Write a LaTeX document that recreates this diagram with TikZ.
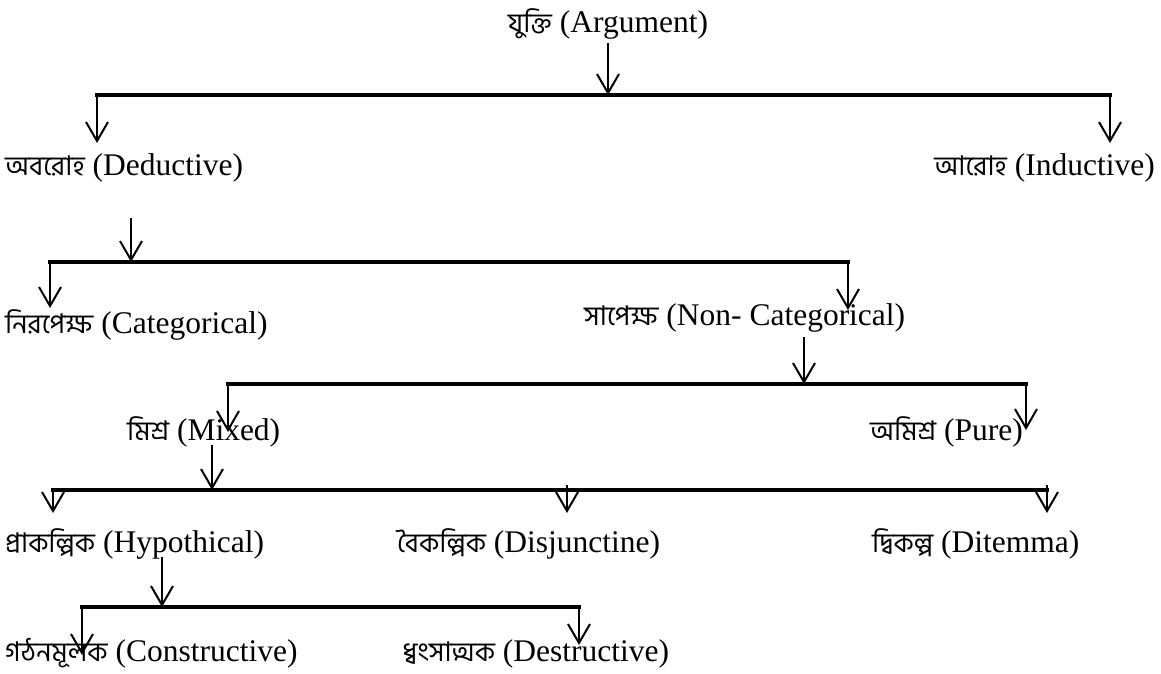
\documentclass[tikz,border=0pt]{standalone}
\usepackage{fontspec}
\setmainfont{Liberation Serif}
\newfontfamily\bn[Script=Bengali,Scale=0.86]{Hind Siliguri}
\usetikzlibrary{arrows.meta}
\tikzset{
  lbl/.style={inner sep=0pt, font=\fontsize{31.5}{38}\selectfont},
  barline/.style={line width=3.5pt, line cap=rect},
  drop/.style={line width=2pt, -{Straight Barb[length=19pt,width=22pt,line width=2pt]}},
}
\begin{document}
\begin{tikzpicture}[x=1pt,y=-1pt]
\useasboundingbox (0,0) rectangle (1161,674);
% labels
\node[lbl,anchor=base] (arg) at (608,33) {{\bn যুক্তি} (Argument)};
\node[lbl,anchor=base west] (ded) at (5,175) {{\bn অবরোহ} (Deductive)};
\node[lbl,anchor=base east] (ind) at (1155,175) {{\bn আরোহ} (Inductive)};
\node[lbl,anchor=base west] (cat) at (5,333) {{\bn নিরপেক্ষ} (Categorical)};
\node[lbl,anchor=base west] (ncat) at (584,325) {{\bn সাপেক্ষ} (Non- Categorical)};
\node[lbl,anchor=base west] (mix) at (127,440) {{\bn মিশ্র} (Mixed)};
\node[lbl,anchor=base west] (pure) at (870,440) {{\bn অমিশ্র} (Pure)};
\node[lbl,anchor=base west] (hyp) at (5,552) {{\bn প্রাকল্পিক} (Hypothical)};
\node[lbl,anchor=base west] (dis) at (397,552) {{\bn বৈকল্পিক} (Disjunctine)};
\node[lbl,anchor=base west] (dil) at (872,552) {{\bn দ্বিকল্প} (Ditemma)};
\node[lbl,anchor=base west] (con) at (5,661) {{\bn গঠনমূলক} (Constructive)};
\node[lbl,anchor=base west] (des) at (402,661) {{\bn ধ্বংসাত্মক} (Destructive)};
% level 1
\coordinate (a1s) at (608,43);
\coordinate (a1e) at (608,95);
\coordinate (b1l) at (97,95);
\coordinate (b1r) at (1110,95);
\coordinate (t1l) at (97,143);
\coordinate (t1r) at (1110,143);
\draw[barline] (b1l) -- (b1r);
\draw[drop] (a1s) -- (a1e);
\draw[drop] (b1l) -- (t1l);
\draw[drop] (b1r) -- (t1r);
% level 2
\coordinate (a2s) at (131,218);
\coordinate (a2e) at (131,262);
\coordinate (b2l) at (50,262);
\coordinate (b2r) at (848,262);
\coordinate (t2l) at (50,308);
\coordinate (t2r) at (848,310);
\draw[barline] (b2l) -- (b2r);
\draw[drop] (a2s) -- (a2e);
\draw[drop] (b2l) -- (t2l);
\draw[drop] (b2r) -- (t2r);
% level 3
\coordinate (a3s) at (804,337);
\coordinate (a3e) at (804,384);
\coordinate (b3l) at (228,384);
\coordinate (b3r) at (1026,384);
\coordinate (t3l) at (228,432);
\coordinate (t3r) at (1026,430);
\draw[barline] (b3l) -- (b3r);
\draw[drop] (a3s) -- (a3e);
\draw[drop] (b3l) -- (t3l);
\draw[drop] (b3r) -- (t3r);
% level 4
\coordinate (a4s) at (212,445);
\coordinate (a4e) at (212,490);
\coordinate (b4l) at (53,490);
\coordinate (b4r) at (1047,490);
\coordinate (b4m) at (567,485);
\coordinate (b4rr) at (1047,485);
\coordinate (t4l) at (53,513);
\coordinate (t4m) at (567,513);
\coordinate (t4r) at (1047,513);
\draw[barline] (b4l) -- (b4r);
\draw[drop] (a4s) -- (a4e);
\draw[drop] (b4l) -- (t4l);
\draw[drop] (b4m) -- (t4m);
\draw[drop] (b4rr) -- (t4r);
% level 5
\coordinate (a5s) at (162,557);
\coordinate (a5e) at (162,607);
\coordinate (b5l) at (82,607);
\coordinate (b5r) at (579,607);
\coordinate (t5l) at (82,655);
\coordinate (t5r) at (579,645);
\draw[barline] (b5l) -- (b5r);
\draw[drop] (a5s) -- (a5e);
\draw[drop] (b5l) -- (t5l);
\draw[drop] (b5r) -- (t5r);
\end{tikzpicture}
\end{document}
